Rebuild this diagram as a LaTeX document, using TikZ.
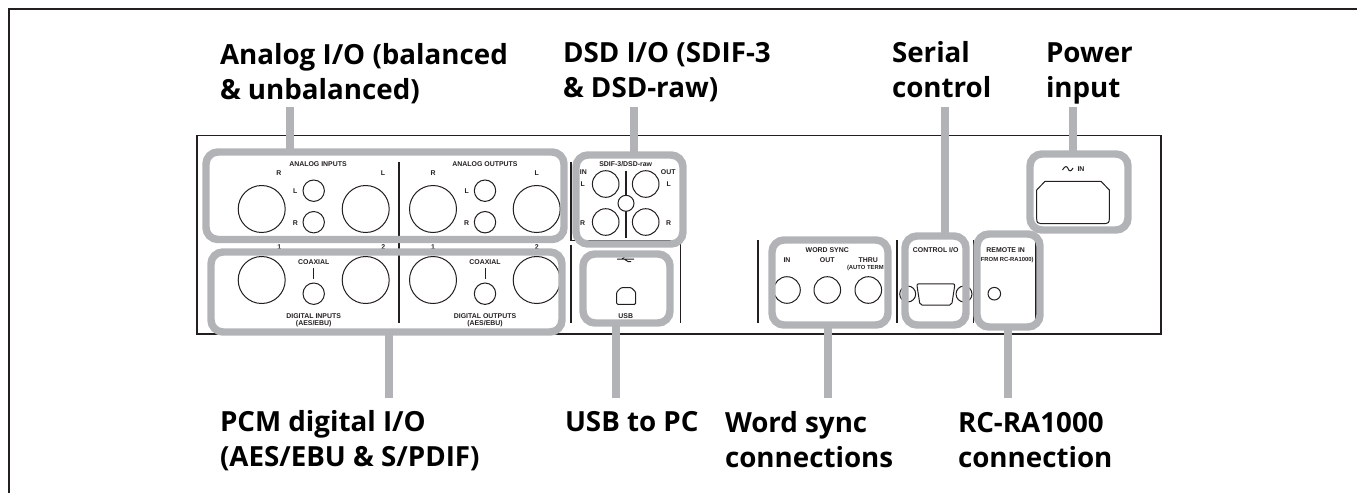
\documentclass[tikz,border=0pt]{standalone}
\usepackage{fontspec}
\setmainfont{Open Sans}
\newfontfamily\panelfont{Liberation Sans}[BoldFont={Liberation Sans Bold}]
\usetikzlibrary{fit}
\definecolor{hl}{HTML}{B1B3B6}
\definecolor{ink}{HTML}{231F20}
\tikzset{
  x=0.75pt,y=-0.75pt,
  frameline/.style={draw=ink,line width=1.6pt},
  part/.style={draw=ink,line width=0.75pt,fill=white},
  rule/.style={draw=ink,line width=0.9pt},
  lab/.style={anchor=base west,inner sep=0pt,outer sep=0pt,align=left,text=black,
     font=\bfseries\fontsize{20.8}{26.25}\selectfont},
  tiny/.style={inner sep=0pt,outer sep=0pt,text=ink,font=\panelfont\bfseries\fontsize{5.2}{5.5}\selectfont},
  tinier/.style={inner sep=0pt,outer sep=0pt,text=ink,font=\panelfont\bfseries\fontsize{4.4}{4.6}\selectfont},
  hlbox/.style={draw=hl,line width=5.6pt,rounded corners=9pt,inner sep=0pt,outer sep=0pt},
  conn/.style={draw=hl,line width=5.6pt},
}
\newcommand{\ring}[3]{\draw[part] (#1,#2) circle[radius=#3*0.75pt];}
\begin{document}
\begin{tikzpicture}
\useasboundingbox (0,0) rectangle (1357,493);
% outer frame
\draw[frameline] (1357,9) -- (9,9) -- (9,493);
% panel
\draw[frameline,line width=1pt] (197,135.7) rectangle (1161,334);
% dividers
\draw[rule] (399,162) -- (399,323);
\draw[rule] (571,162) -- (571,240.5) -- (680.7,240.5);
\draw[rule] (680.7,162) -- (680.7,323);
\draw[rule] (571,245) -- (571,323);
\draw[rule] (758,240) -- (758,323);
\draw[rule] (897,240) -- (897,323);
\draw[rule] (973.3,240) -- (973.3,323);
\draw[rule] (1036,238) -- (1036,322);
% analog
\foreach \x in {261.7,365.7,433,536.7} {\ring{\x}{209}{23.5}}
\foreach \x in {313.7,485} {\ring{\x}{190.7}{10.7}\ring{\x}{222.2}{10.7}}
\node[tiny] (tAI) at (318,163.7) {ANALOG INPUTS};
\node[tiny] (tAO) at (485,163.7) {ANALOG OUTPUTS};
\node[tiny] (t1) at (279,172.7) {R};
\node[tiny] (t2) at (383,172.7) {L};
\node[tiny] (t3) at (433,172.7) {R};
\node[tiny] (t4) at (536.7,172.7) {L};
\node[tiny] (t5) at (295.3,190.7) {L};
\node[tiny] (t6) at (295.3,222.7) {R};
\node[tiny] (t7) at (466.7,190.7) {L};
\node[tiny] (t8) at (466.7,222.7) {R};
% DSD
\draw[rule,line width=1.6pt] (625.7,171) -- (625.7,237.7);
\ring{605.7}{184}{13.3}\ring{645.7}{184}{13.3}\ring{605.7}{222}{13.3}\ring{645.7}{222}{13.3}
\ring{626}{203.3}{8}
\node[tiny] (tS) at (625.7,163.7) {SDIF-3/DSD-raw};
\node[tiny] (t9) at (583.3,172) {IN};
\node[tiny] (t10) at (582.7,184) {L};
\node[tiny] (t11) at (582.7,222.7) {R};
\node[tiny] (t12) at (668.3,172) {OUT};
\node[tiny] (t13) at (668.7,184) {L};
\node[tiny] (t14) at (668.7,222.7) {R};
% digital
\node[tiny] (t15) at (279.3,246.7) {1};
\node[tiny] (t16) at (383.3,246.7) {2};
\node[tiny] (t17) at (433,246.7) {1};
\node[tiny] (t18) at (536.7,246.7) {2};
\foreach \x in {261.7,365.7,433,536.7} {\ring{\x}{280}{23.5}}
\foreach \x in {313.7,485} {\ring{\x}{293.7}{10.7}\draw[part] (\x,268.3) -- (\x,279);}
\node[tiny] (tC1) at (313.7,262.3) {COAXIAL};
\node[tiny] (tC2) at (485,262.3) {COAXIAL};
\node[tiny] (tDI) at (313.7,316) {DIGITAL INPUTS};
\node[tiny] (tDO) at (485,316) {DIGITAL OUTPUTS};
\node[tiny] (tE1) at (313.7,323.3) {(AES/EBU)};
\node[tiny] (tE2) at (485,323.3) {(AES/EBU)};
% USB
\draw[part,fill=none] (617,259) -- (634,259) (622,259) -- (625,256.5) -- (629,256.5) (624,259) -- (628,261.5) -- (631,261.5);
\draw[part,rounded corners=0.8pt] (616.7,304.3) -- (616.7,292) -- (621,287.7) -- (631.4,287.7) -- (635.7,292) -- (635.7,304.3) -- cycle;
\node[tiny] (tU) at (625.7,316) {USB};
% word sync
\ring{787}{290}{13.3}\ring{827.3}{290}{13.3}\ring{868.3}{290}{13.3}
\node[tiny] (tW) at (827.3,250) {WORD SYNC};
\node[tiny] (t19) at (787,260.3) {IN};
\node[tiny] (t20) at (827.3,260.3) {OUT};
\node[tiny] (t21) at (868.3,260.3) {THRU};
\node[tinier,anchor=west] (t22) at (847,267.7) {(AUTO TERM};
% control
\ring{907.7}{294}{8}\ring{964}{294}{8}
\draw[part,rounded corners=1.5pt] (916.7,283.8) -- (955,283.8) -- (951.7,305) -- (920,305) -- cycle;
\node[tiny] (tCI) at (935.7,250.3) {CONTROL I/O};
% remote
\ring{994.3}{293.7}{6.3}
\node[tiny] (tR) at (1005.7,250.3) {REMOTE IN};
\node[tinier] (tF) at (1007.3,260.3) {FROM RC-RA1000)};
% power
\draw[part,fill=none] (1062.5,170) .. controls (1065,165.5) and (1067,166) .. (1068,168.5) .. controls (1069,171.5) and (1071,172) .. (1073,168);
\node[tiny] (tP) at (1081,169) {IN};
\draw[part] (1036.7,190) -- (1045,181.3) -- (1101,181.3) -- (1109.3,190) -- (1109.3,219)
  .. controls (1109.3,222.5) and (1108,223.7) .. (1105,223.7) -- (1041,223.7)
  .. controls (1038,223.7) and (1036.7,222.5) .. (1036.7,219) -- cycle;
% highlight boxes
\node[hlbox,fit={(206,152) (564,239.5)}] (bA) {};
\node[hlbox,fit={(576,155) (683,244)}] (bD) {};
\node[hlbox,fit={(211,252) (562,332)}] (bP) {};
\node[hlbox,fit={(583,254) (670,323)}] (bU) {};
\node[hlbox,fit={(772,240) (888,325)}] (bW) {};
\node[hlbox,fit={(905,236) (966,325)}] (bC) {};
\node[hlbox,fit={(977,234) (1040,327)}] (bR) {};
\node[hlbox,fit={(1030,154) (1128,230)}] (bG) {};
% labels
\node[lab] (lA) at (220,99) {Analog I/O (balanced\\\& unbalanced)};
\node[lab] (lD) at (563,97) {DSD I/O (SDIF-3\\\& DSD-raw)};
\node[lab] (lS) at (892,97) {Serial\\control};
\node[lab] (lG) at (1046,97) {Power\\input};
\node[lab] (lP) at (220,466) {PCM digital I/O\\(AES/EBU \& S/PDIF)};
\node[lab] (lU) at (565,431) {USB to PC};
\node[lab] (lW) at (725,467) {Word sync\\connections};
\node[lab] (lR) at (958,467) {RC-RA1000\\connection};
% connectors
\coordinate (cA) at (290,107);
\coordinate (cD) at (634,107);
\coordinate (cS) at (945,107);
\coordinate (cG) at (1073,107);
\coordinate (cP) at (389,398);
\coordinate (cU) at (616,398);
\coordinate (cW) at (828,398);
\coordinate (cR) at (1008,398);
\draw[conn] (cA) -- (cA |- bA.north);
\draw[conn] (cD) -- (cD |- bD.north);
\draw[conn] (cS) -- (cS |- bC.north);
\draw[conn] (cG) -- (cG |- bG.north);
\draw[conn] (cP) -- (cP |- bP.south);
\draw[conn] (cU) -- (cU |- bU.south);
\draw[conn] (cW) -- (cW |- bW.south);
\draw[conn] (cR) -- (cR |- bR.south);
\end{tikzpicture}
\end{document}
